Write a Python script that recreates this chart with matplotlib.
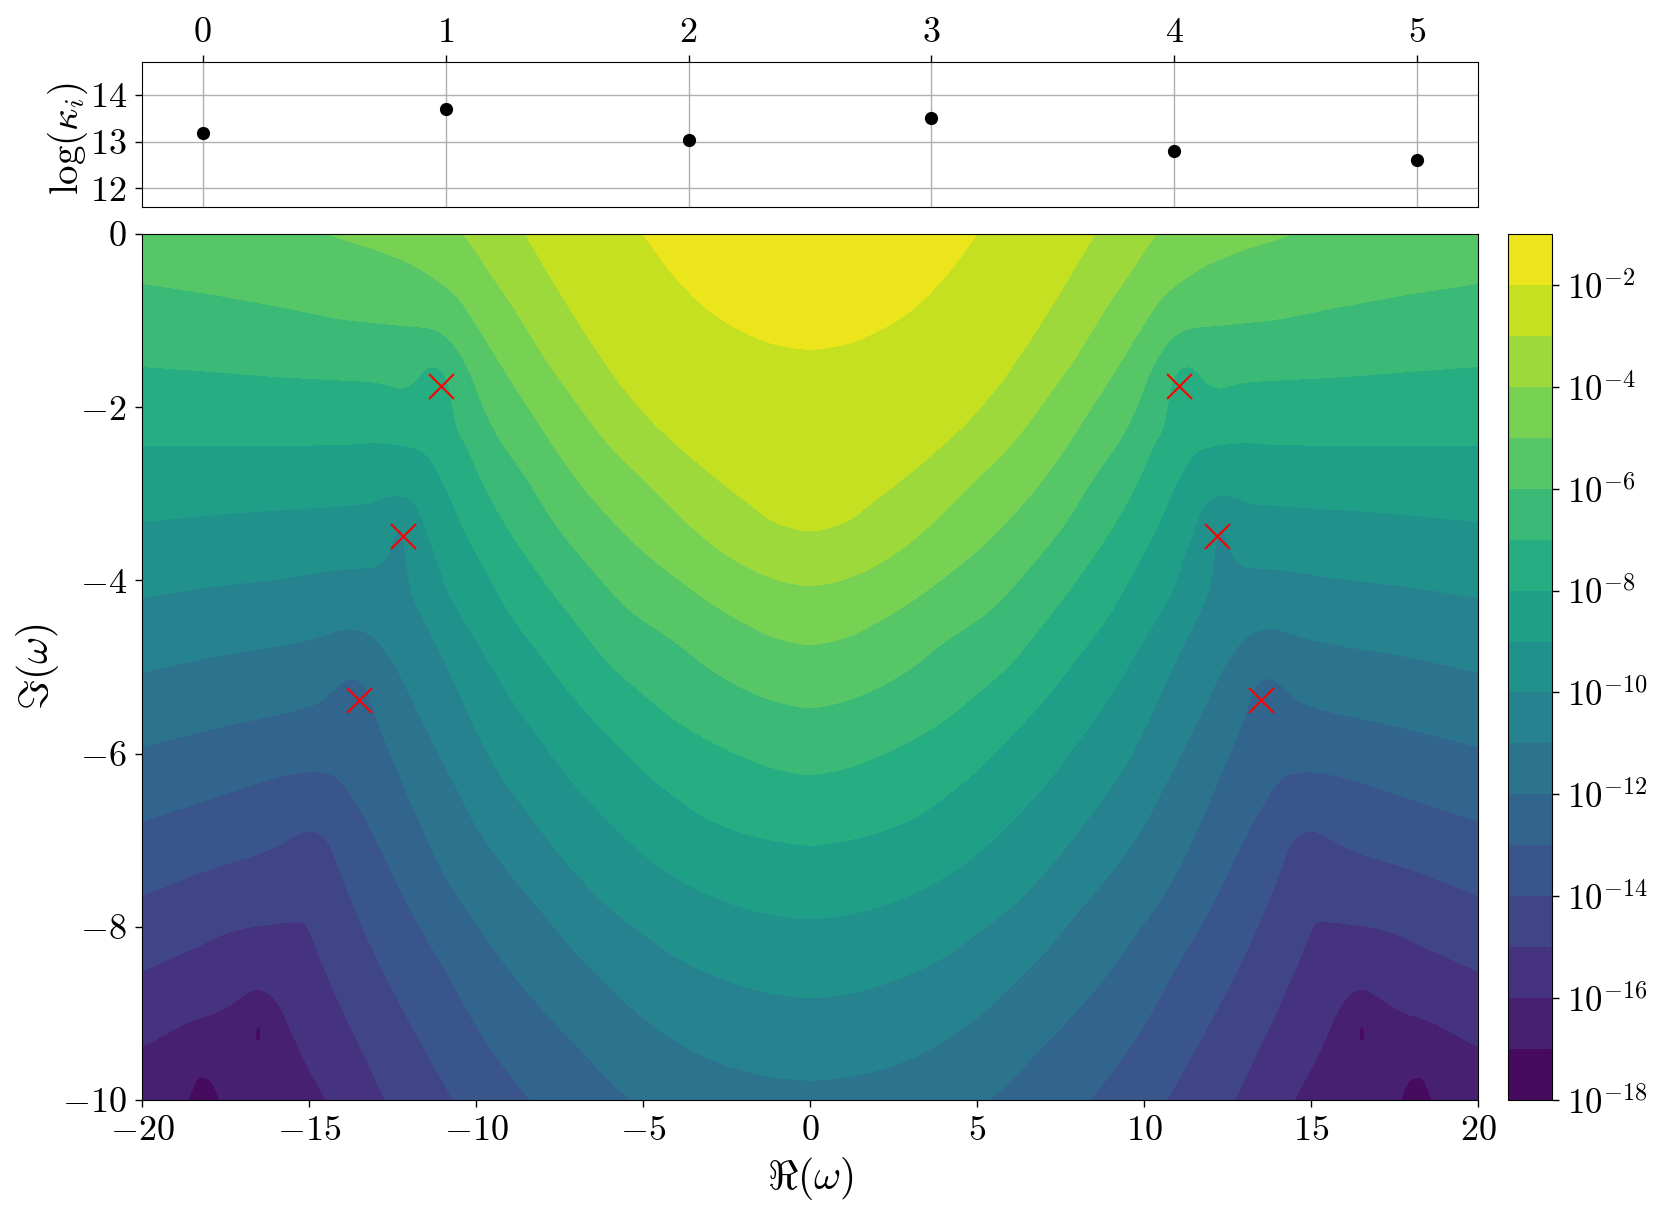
import numpy as np
import matplotlib
matplotlib.use('Agg')
import matplotlib.pyplot as plt
from matplotlib.colors import LogNorm

plt.rcParams['font.family'] = 'serif'
plt.rcParams['font.serif'] = ['cmr10']
plt.rcParams['mathtext.fontset'] = 'cm'
plt.rcParams['axes.unicode_minus'] = False
plt.rcParams['axes.formatter.use_mathtext'] = True

# top panel
mode_index = [0, 1, 2, 3, 4, 5]
log_kappa = [13.19, 13.70, 13.03, 13.50, 12.80, 12.61]

# poles, right side (the plot is mirrored about Re = 0)
pole_re = [11.05, 12.2, 13.51]
pole_im = [-1.75, -3.49, -5.38]

# contour crossings read from the right half, one pair per decade
c2_x = [0, 0.97, 1.97, 2.96, 3.96, 5.0, 6.5]
c2_y = [-1.33, -1.28, -1.13, -0.90, -0.53, 0.0, 0.8]
c3_x = [0, 0.97, 1.97, 3.46, 4.76, 5.76, 6.46, 7.45, 8.53, 9.5]
c3_y = [-3.43, -3.34, -3.07, -2.61, -2.15, -1.69, -1.30, -0.70, 0, 0.6]
c4_x = [0, 0.47, 1.47, 2.47, 3.46, 4.96, 5.96, 6.96, 7.95, 8.95, 9.7, 9.88, 10.38, 11.0]
c4_y = [-4.06, -4.04, -3.92, -3.71, -3.41, -2.84, -2.46, -1.96, -1.42, -0.80, -0.38, -0.27, 0, 0.3]
c5_x = [0, 0.97, 1.97, 2.96, 3.96, 4.96, 5.79, 6.96, 8.45, 9.45, 9.88, 10.58, 11.18, 11.88, 12.87, 14.42, 15.5]
c5_y = [-4.74, -4.67, -4.49, -4.26, -3.98, -3.67, -3.36, -2.84, -1.99, -1.38, -1.11, -0.72, -0.53, -0.36, -0.20, 0, 0.2]
c6_x = [0, 0.97, 1.97, 2.96, 3.96, 5.46, 6.46, 7.6, 8.45, 9.45, 9.88, 10.08, 10.48, 10.88, 11.38, 12.38, 13.87, 15.87, 17.86, 20]
c6_y = [-5.47, -5.40, -5.25, -5.03, -4.73, -4.32, -3.90, -3.36, -2.84, -2.26, -1.90, -1.69, -1.38, -1.19, -1.09, -1.05, -0.99, -0.84, -0.70, -0.57]
c7_x = [0, 0.97, 1.97, 2.96, 3.96, 4.96, 5.96, 6.96, 7.95, 9.1, 9.88, 10.28, 10.58, 10.70, 10.78, 10.93, 11.13, 11.38, 11.68, 11.98, 12.28, 12.68, 13.07, 13.87, 15.87, 17.86, 20]
c7_y = [-6.24, -6.18, -6.04, -5.86, -5.63, -5.32, -4.98, -4.51, -4.01, -3.36, -2.80, -2.45, -2.22, -1.99, -1.80, -1.63, -1.55, -1.53, -1.63, -1.74, -1.78, -1.74, -1.71, -1.69, -1.65, -1.59, -1.53]
c8_x = [0, 0.97, 1.97, 2.67, 3.26, 3.96, 4.96, 5.96, 6.96, 7.95, 8.95, 9.88, 10.43, 10.78, 11.18, 11.48, 11.78, 12.38, 13.07, 13.87, 15.87, 20]
c8_y = [-7.06, -7.01, -6.92, -6.82, -6.71, -6.52, -6.21, -5.82, -5.40, -4.92, -4.40, -3.76, -3.36, -3.03, -2.73, -2.55, -2.48, -2.43, -2.41, -2.43, -2.44, -2.44]
c9_x = [0, 0.97, 1.97, 2.96, 3.96, 4.96, 6.2, 6.96, 7.95, 8.95, 9.88, 10.38, 10.88, 11.18, 11.53, 11.63, 11.83, 12.08, 12.43, 12.88, 13.27, 14.87, 16.87, 20]
c9_y = [-7.91, -7.87, -7.78, -7.64, -7.44, -7.17, -6.71, -6.40, -5.90, -5.36, -4.76, -4.44, -4.09, -3.74, -3.38, -3.26, -3.12, -3.04, -3.02, -3.06, -3.11, -3.16, -3.21, -3.32]
c10_x = [0, 0.97, 1.97, 2.96, 3.96, 4.96, 5.96, 6.96, 8.4, 9.45, 9.88, 10.48, 11.18, 11.68, 11.93, 12.05, 12.12, 12.2, 12.3, 12.45, 12.57, 12.65, 12.82, 13.07, 13.57, 14.17, 15.87, 17.86, 20]
c10_y = [-8.82, -8.78, -8.69, -8.55, -8.36, -8.09, -7.79, -7.40, -6.71, -6.13, -5.82, -5.32, -4.74, -4.36, -4.13, -3.90, -3.63, -3.42, -3.40, -3.50, -3.63, -3.71, -3.79, -3.85, -3.86, -3.88, -3.98, -4.07, -4.20]
c11_x = [0, 0.97, 1.97, 2.96, 3.96, 4.96, 5.96, 6.96, 7.95, 8.95, 10.03, 10.58, 11.18, 11.88, 12.38, 12.67, 12.97, 13.37, 13.87, 14.37, 15.07, 17.86, 20]
c11_y = [-9.77, -9.74, -9.66, -9.53, -9.33, -9.06, -8.71, -8.32, -7.86, -7.40, -6.81, -6.40, -5.94, -5.40, -5.01, -4.84, -4.69, -4.59, -4.56, -4.61, -4.69, -4.88, -5.06]
c12_x = [4.5, 5.36, 5.96, 6.96, 7.95, 8.95, 9.88, 10.88, 11.78, 12.48, 12.87, 13.12, 13.27, 13.47, 13.67, 13.87, 14.12, 14.37, 14.67, 15.07, 17.86, 20]
c12_y = [-10.35, -10, -9.79, -9.38, -8.98, -8.52, -8.02, -7.44, -6.71, -6.07, -5.71, -5.44, -5.26, -5.17, -5.13, -5.15, -5.21, -5.30, -5.40, -5.46, -5.71, -5.92]
c13_x = [7.0, 8.38, 9.88, 10.88, 11.88, 12.87, 13.37, 13.57, 13.87, 14.27, 14.87, 15.57, 16.37, 17.86, 20]
c13_y = [-10.6, -10, -9.21, -8.52, -7.86, -7.09, -6.71, -6.59, -6.40, -6.25, -6.21, -6.24, -6.32, -6.51, -6.78]
c14_x = [9.8, 10.68, 11.88, 12.87, 13.37, 13.87, 14.17, 14.37, 14.67, 15.02, 15.37, 15.87, 16.37, 17.86, 20]
c14_y = [-10.6, -10, -9.17, -8.44, -8.02, -7.56, -7.25, -7.06, -6.93, -6.89, -6.94, -7.05, -7.14, -7.32, -7.64]
c15_x = [12.0, 12.72, 13.27, 13.87, 14.67, 14.92, 15.12, 15.27, 16.37, 17.37, 18.36, 20]
c15_y = [-10.6, -10, -9.54, -9.06, -8.36, -8.11, -7.96, -7.94, -7.98, -8.06, -8.23, -8.51]
c16_x = [13.8, 14.49, 15.07, 15.57, 15.87, 16.27, 16.57, 16.87, 17.37, 17.86, 18.56, 19.36, 20]
c16_y = [-10.6, -10, -9.59, -9.17, -8.92, -8.75, -8.72, -8.77, -8.90, -9.0, -9.09, -9.25, -9.38]
c17_x = [17.5, 17.68, 17.86, 18.02, 18.32, 18.46, 18.62, 18.8]
c17_y = [-10.5, -10, -9.83, -9.75, -9.74, -9.84, -10, -10.5]

# the small closed island of the 1e-17 contour
island_x = [16.44, 16.60]
island_y = [-9.16, -9.33]

crossings = [(-2, c2_x, c2_y), (-3, c3_x, c3_y), (-4, c4_x, c4_y), (-5, c5_x, c5_y),
             (-6, c6_x, c6_y), (-7, c7_x, c7_y), (-8, c8_x, c8_y), (-9, c9_x, c9_y),
             (-10, c10_x, c10_y), (-11, c11_x, c11_y), (-12, c12_x, c12_y), (-13, c13_x, c13_y),
             (-14, c14_x, c14_y), (-15, c15_x, c15_y), (-16, c16_x, c16_y), (-17, c17_x, c17_y)]

re_half = np.arange(0, 20.01, 0.02)
im_grid = np.arange(-10, 0.005, 0.01)


def pchip(xq, xs, ys):
	'''shape preserving cubic through the read points, there is no scipy here'''
	xs = np.asarray(xs, float)
	ys = np.asarray(ys, float)
	h = np.diff(xs)
	d = np.diff(ys) / h
	m = np.zeros(len(xs))
	# flat at x=0 where the mirrored curve meets itself, one sided at the far end
	m[0] = 0.0 if xs[0] == 0 else d[0]
	m[-1] = d[-1]
	for i in range(1, len(xs) - 1):
		if d[i - 1] * d[i] > 0:
			w1 = 2 * h[i] + h[i - 1]
			w2 = h[i] + 2 * h[i - 1]
			m[i] = (w1 + w2) / (w1 / d[i - 1] + w2 / d[i])
	k = np.clip(np.searchsorted(xs, xq, side='right') - 1, 0, len(xs) - 2)
	t = (xq - xs[k]) / h[k]
	return ((2 * t ** 3 - 3 * t ** 2 + 1) * ys[k] + (t ** 3 - 2 * t ** 2 + t) * h[k] * m[k]
	        + (-2 * t ** 3 + 3 * t ** 2) * ys[k + 1] + (t ** 3 - t ** 2) * h[k] * m[k + 1])


def level_curve(xs, ys):
	'''y of one contour on the column grid, nan where it has no crossing'''
	out = np.full(re_half.shape, np.nan)
	mask = (re_half >= xs[0]) & (re_half <= xs[-1])
	y = pchip(re_half[mask], xs, ys)
	y = np.convolve(np.pad(y, 3, mode='edge'), np.ones(7) / 7, mode='valid')
	out[mask] = y
	return out


curves = {lev: level_curve(xs, ys) for lev, xs, ys in crossings}

# log10 of the field, column by column
logz_half = np.zeros((len(im_grid), len(re_half)))
for j, x in enumerate(re_half):
	ys = []
	zs = []
	for lev in sorted(curves):
		if not np.isnan(curves[lev][j]):
			ys.append(curves[lev][j])
			zs.append(lev)
	if island_x[0] <= x <= island_x[1]:
		t = 1 - (2 * (x - island_x[0]) / (island_x[1] - island_x[0]) - 1) ** 2
		mid = 0.5 * (island_y[0] + island_y[1])
		half = 0.5 * (island_y[0] - island_y[1]) * t ** 0.5
		ys = [-10.5, mid - half, mid, mid + half] + ys
		zs = [-16.6, -17, -17.4, -17] + zs
	col = np.interp(im_grid, ys, zs)
	col = np.where(im_grid > ys[-1], zs[-1] + (im_grid - ys[-1]) * 0.8, col)
	col = np.where(im_grid < ys[0], zs[0] - (ys[0] - im_grid) * 0.5, col)
	logz_half[:, j] = col

logz = np.hstack([logz_half[:, :0:-1], logz_half])
re_grid = np.concatenate([-re_half[:0:-1], re_half])
field = 10.0 ** np.clip(logz, -17.999, -1.001)

W = 1661.0
H = 1213.0
fig = plt.figure(figsize=(W / 100, H / 100), dpi=100)


def axes_px(x0, x1, y0, y1):
	return fig.add_axes([x0 / W, 1 - y1 / H, (x1 - x0) / W, (y1 - y0) / H])


ax_top = axes_px(142, 1478, 62, 207)
ax = axes_px(142, 1478, 234, 1100)
cax = axes_px(1508, 1552, 234, 1100)

fs = 26

ax_top.plot(mode_index, log_kappa, 'o', color='k', ms=8.5, zorder=3)
ax_top.set_xlim(-0.25, 5.25)
ax_top.set_ylim(11.6, 14.71)
ax_top.xaxis.tick_top()
ax_top.set_xticks(mode_index, labels=['$%d$' % i for i in mode_index])
ax_top.set_yticks([12, 13, 14], labels=['$12$', '$13$', '$14$'])
ax_top.grid(True, color='#b0b0b0', lw=1.0)
ax_top.set_axisbelow(True)
ax_top.tick_params(labelsize=fs, length=5, width=1, pad=6)
ax_top.tick_params(axis='x', pad=4)
ax_top.set_ylabel(r'$\log(\kappa_i)$', fontsize=fs + 2)
ax_top.yaxis.set_label_coords(-0.039, 0.47)

levels = 10.0 ** np.arange(-18, 0)
cs = ax.contourf(re_grid, im_grid, field, levels=levels, norm=LogNorm(1e-18, 1e-1), cmap='viridis')
ax.plot(pole_re + [-p for p in pole_re], pole_im + pole_im, 'x', color='red', ms=18, mew=1.5, zorder=4)
ax.set_xlim(-20, 20)
ax.set_ylim(-10, 0)
re_ticks = [-20, -15, -10, -5, 0, 5, 10, 15, 20]
im_ticks = [-10, -8, -6, -4, -2, 0]
ax.set_xticks(re_ticks, labels=['$%d$' % t for t in re_ticks])
ax.set_yticks(im_ticks, labels=['$%d$' % t for t in im_ticks])
ax.tick_params(labelsize=fs, length=5, width=1, pad=6)
ax.set_xlabel(r'$\Re(\omega)$', fontsize=fs + 4, labelpad=6)
ax.set_ylabel(r'$\Im(\omega)$', fontsize=fs + 4)
ax.yaxis.set_label_coords(-0.061, 0.5)

cbar = fig.colorbar(cs, cax=cax)
cbar_ticks = [-18, -16, -14, -12, -10, -8, -6, -4, -2]
cbar.set_ticks([10.0 ** t for t in cbar_ticks], labels=['$10^{%d}$' % t for t in cbar_ticks])
cbar.ax.minorticks_off()
cbar.ax.tick_params(labelsize=fs - 1, length=5, width=1, pad=5.5)

fig.savefig('out.png', dpi=100)
